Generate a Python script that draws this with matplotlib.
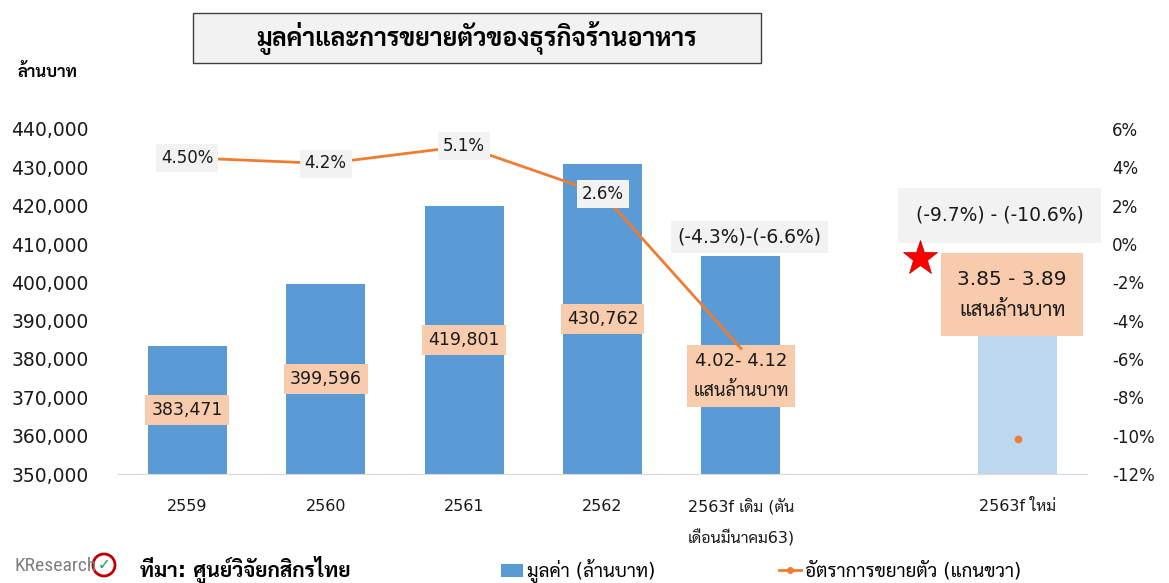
"""
มูลค่าและการขยายตัวของธุรกิจร้านอาหาร - bar + line chart
"""

import matplotlib
matplotlib.use("Agg")
import matplotlib.pyplot as plt
import numpy as np
from matplotlib import font_manager
from matplotlib.patches import Rectangle, Ellipse
from matplotlib.lines import Line2D
from matplotlib.ticker import FuncFormatter

# ---- data ----
categories = ['2559', '2560', '2561', '2562', '2563f เดิม (ตัน\nเดือนมีนาคม63)', '', '2563f ใหม่']
values = [383471, 399596, 419801, 430762, 407000, np.nan, 387000]     # ล้านบาท
growth = [4.5, 4.2, 5.1, 2.6, -5.45, np.nan, -10.15]                  # %
value_labels = ['383,471', '399,596', '419,801', '430,762', '4.02- 4.12\nแสนล้านบาท', '', '3.85 - 3.89\nแสนล้านบาท']
growth_labels = ['4.50%', '4.2%', '5.1%', '2.6%', '(-4.3%)-(-6.6%)', '', '(-9.7%) - (-10.6%)']
bar_colors = ['#5B9BD5'] * 6 + ['#BDD7EE']

# font with thai glyphs
def pick_font(names, default='DejaVu Sans'):
    avail = {f.name for f in font_manager.fontManager.ttflist}
    for n in names:
        if n in avail:
            return n
    return default

thai = pick_font(['Sarabun', 'Noto Sans Thai Looped', 'Noto Sans Thai', 'Bai Jamjuree'])
narrow = pick_font(['Liberation Sans Narrow', 'Roboto Condensed', 'Open Sans Condensed'], 'Liberation Sans')
plt.rcParams['font.family'] = ['DejaVu Sans', thai]

BLUE = '#5B9BD5'
ORANGE = '#ED7D31'
PEACH = '#F8CBAD'
GREY_BOX = '#F2F2F2'
TXT = '#1A1A1A'

fig = plt.figure(figsize=(11.69, 5.83), dpi=100)
ax = fig.add_axes([118/1169, 1-474/583, (1087-118)/1169, 345/583])
ax2 = ax.twinx()

x = np.arange(len(categories))

# bars
ax.bar(x, values, width=0.57, color=bar_colors, zorder=2)
ax.set_ylim(350000, 440000)
ax.set_xlim(-0.5, 6.5)
ax.set_yticks(np.arange(350000, 440001, 10000))
ax.yaxis.set_major_formatter(FuncFormatter(lambda v, p: '{:,.0f}'.format(v)))
ax.set_xticks(x)
ax.set_xticklabels(categories, fontsize=11.5, color=TXT, linespacing=2.0, va='top')
ax.tick_params(axis='x', length=0, pad=18)
ax.tick_params(axis='y', length=0, labelsize=13.5, colors=TXT, pad=21)
for s in ['top', 'right', 'left']:
    ax.spines[s].set_visible(False)
ax.spines['bottom'].set_color('#D9D9D9')

# growth line (right axis)
ax2.plot(x, growth, color=ORANGE, lw=2, marker='o', ms=4.5, markevery=[6], zorder=3)
ax2.set_ylim(-12, 6)
ax2.set_yticks(np.arange(-12, 7, 2))
ax2.yaxis.set_major_formatter(FuncFormatter(lambda v, p: '%d%%' % v))
ax2.tick_params(axis='y', length=0, labelsize=12, colors=TXT, pad=18)
for s in ax2.spines.values():
    s.set_visible(False)

# value labels in the bars
for i in range(4):
    ax.text(x[i], (350000 + values[i]) / 2, value_labels[i], ha='center', va='center',
            fontsize=12.5, color=TXT, zorder=5,
            bbox=dict(boxstyle='square,pad=0.35', fc=PEACH, ec='none'))

ax.annotate(value_labels[4], xy=(x[4], (350000 + values[4]) / 2), xytext=(0, -8),
            textcoords='offset points', ha='center', va='center', fontsize=13,
            color=TXT, linespacing=1.9, zorder=5,
            bbox=dict(boxstyle='square,pad=0.35', fc=PEACH, ec='none'))
ax.annotate(value_labels[6], xy=(x[6], values[6]), xytext=(-4, 27),
            textcoords='offset points', ha='center', va='center', fontsize=14.5,
            color=TXT, linespacing=1.8, zorder=5,
            bbox=dict(boxstyle='square,pad=0.8', fc=PEACH, ec='none'))

# growth labels
for i in range(4):
    ax2.text(x[i], growth[i], growth_labels[i], ha='center', va='center', fontsize=12,
             color=TXT, zorder=6,
             bbox=dict(boxstyle='square,pad=0.3', fc=GREY_BOX, ec='none'))
ax2.annotate(growth_labels[4], xy=(x[4], 0), xytext=(6, 5),
             textcoords='offset points', ha='center', va='center', fontsize=13.5,
             color=TXT, zorder=6,
             bbox=dict(boxstyle='square,pad=0.35', fc=GREY_BOX, ec='none'))
ax2.annotate(growth_labels[6], xy=(x[6], 1.5), xytext=(-13, 0),
             textcoords='offset points', ha='center', va='center', fontsize=13.5,
             color=TXT, zorder=6,
             bbox=dict(boxstyle='square,pad=0.95', fc=GREY_BOX, ec='none'))

# red star
ax2.plot([0.828], [0.626], marker='*', ms=26, color='#FF0000', mec='#C00000', mew=0.5,
         transform=ax2.transAxes, zorder=7, clip_on=False)

# title box
fig.patches.append(Rectangle((193/1169, 1-63/583), 568/1169, 50/583, transform=fig.transFigure,
                             fc=GREY_BOX, ec='#404040', lw=1))
fig.text(477/1169, 1-38/583, 'มูลค่าและการขยายตัวของธุรกิจร้านอาหาร', ha='center', va='center',
         fontsize=18, fontweight='bold', color='black')
fig.text(18/1169, 1-72/583, 'ล้านบาท', ha='left', va='center', fontsize=12, fontweight='bold')

# footer: logo + source
fig.text(14/1169, 1-566/583, 'KResearch', ha='left', va='center', fontsize=14,
         color='#7F7F7F', family=narrow)
fig.patches.append(Ellipse((104/1169, 1-565/583), 22/1169, 22/583, transform=fig.transFigure,
                           fc='white', ec='#C00000', lw=2))
fig.text(104/1169, 1-565/583, '✓', ha='center', va='center', fontsize=11,
         color='#00A650', fontweight='bold')
fig.text(140/1169, 1-570/583, 'ที่มา: ศูนย์วิจัยกสิกรไทย', ha='left', va='center',
         fontsize=15, fontweight='bold', color='black')

# legend
handles = [Rectangle((0, 0), 1, 1, fc=BLUE, ec='none'),
           Line2D([], [], color=ORANGE, lw=2, marker='o', ms=4)]
fig.legend(handles, ['มูลค่า (ล้านบาท)', 'อัตราการขยายตัว (แกนขวา)'], loc='center',
           bbox_to_anchor=(761/1169, 1-571/583), ncol=2, frameon=False, fontsize=13.5,
           handlelength=1.2, handletextpad=0.2, columnspacing=6.6)

fig.savefig('out.png', dpi=100)
